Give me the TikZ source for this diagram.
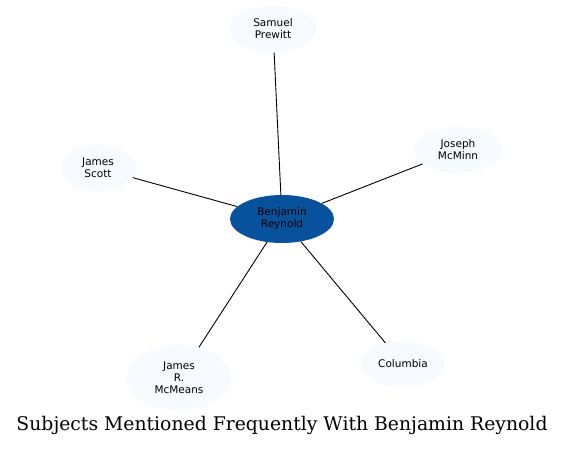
\documentclass[tikz,border=0pt]{standalone}
\usepackage{fontspec}
\newfontfamily\labelfont{DejaVu Sans}
\newfontfamily\titlefont{DejaVu Serif}
\usetikzlibrary{shapes.geometric}
\definecolor{hubblue}{HTML}{08519C}
\definecolor{leafblue}{HTML}{F7FBFF}
\tikzset{
  subject/.style={ellipse, fill=leafblue, inner sep=0pt, align=center,
    font=\labelfont\fontsize{10.5}{12}\selectfont},
  hub/.style={subject, fill=hubblue},
  link/.style={black, line width=0.9pt}
}
\begin{document}
\begin{tikzpicture}[x=1pt, y=-1pt]
  \useasboundingbox (0,0) rectangle (564,448);
  \node[hub, minimum width=104, minimum height=48] (reynold) at (282,219) {Benjamin\\Reynold};
  \node[subject, minimum width=88, minimum height=47] (prewitt) at (273,29) {Samuel\\Prewitt};
  \node[subject, minimum width=88, minimum height=46] (mcminn) at (458,150) {Joseph\\McMinn};
  \node[subject, minimum width=76, minimum height=46] (scott) at (98,168) {James\\Scott};
  \node[subject, minimum width=104, minimum height=66] (mcmeans) at (179,378) {James\\R.\\McMeans};
  \node[subject, minimum width=84, minimum height=46] (columbia) at (403,364) {Columbia};
  \draw[link] (reynold) -- (prewitt);
  \draw[link] (reynold) -- (mcminn);
  \draw[link] (reynold) -- (scott);
  \draw[link] (reynold) -- (mcmeans);
  \draw[link] (reynold) -- (columbia);
  \node[font=\titlefont\fontsize{18.8}{22}\selectfont] (title) at (282,425) {Subjects Mentioned Frequently With Benjamin Reynold};
\end{tikzpicture}
\end{document}
